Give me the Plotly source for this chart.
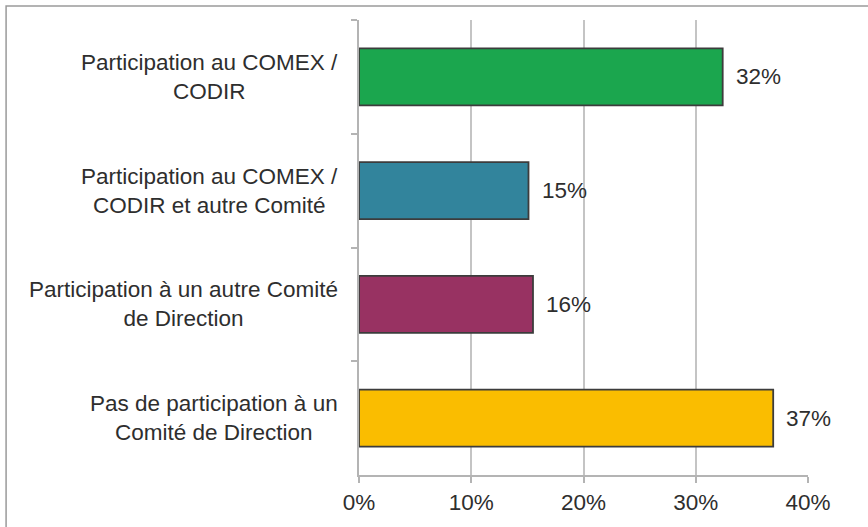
import plotly.graph_objects as go

categories = [
    "Participation au COMEX /<br>CODIR",
    "Participation au COMEX /<br>CODIR et autre Comité",
    "Participation à un autre Comité<br>de Direction",
    "Pas de participation à un<br>Comité de Direction",
]
values = [32.4, 15.1, 15.5, 36.9]
value_labels = ["32%", "15%", "16%", "37%"]
colors = ["#1ba64e", "#32849c", "#983262", "#fabd00"]
x_ticks = [0, 10, 20, 30, 40]
x_tick_labels = ["0%", "10%", "20%", "30%", "40%"]

FONT = "Liberation Sans, Arial, sans-serif"
TXT = "#2e2e2e"

fig = go.Figure()
fig.add_trace(go.Bar(
    y=categories,
    x=values,
    orientation="h",
    width=0.5,
    marker=dict(color=colors, line=dict(color="#3c3c3c", width=1.8)),
    hoverinfo="skip",
))

annotations = []
for cat, v, lab in zip(categories, values, value_labels):
    annotations.append(dict(
        x=v, y=cat, xref="x", yref="y", text=lab, showarrow=False,
        xanchor="left", yanchor="middle", xshift=11,
        font=dict(family=FONT, size=22.5, color=TXT),
    ))
    annotations.append(dict(
        x=0, y=cat, xref="paper", yref="y", text=cat, showarrow=False,
        xanchor="right", yanchor="middle", align="center", xshift=-19,
        font=dict(family=FONT, size=22.5, color=TXT),
    ))

fig.update_layout(
    width=868, height=527,
    margin=dict(l=359, r=60, t=20, b=45),
    paper_bgcolor="white", plot_bgcolor="white",
    showlegend=False,
    bargap=0.5,
    annotations=annotations,
    shapes=[dict(
        type="rect", xref="paper", yref="paper",
        x0=-0.786, x1=1.5, y0=-0.5, y1=1.031,
        line=dict(color="#9a9a9a", width=1.5), fillcolor="rgba(0,0,0,0)",
        layer="below",
    )],
    xaxis=dict(
        range=[0, 40], tickvals=x_ticks, ticktext=x_tick_labels,
        showgrid=True, gridcolor="#c4c4c4", gridwidth=1.5,
        showline=True, linecolor="#b4b4b4", linewidth=1.5,
        ticks="outside", ticklen=6, tickcolor="#b4b4b4", tickwidth=1.5,
        tickfont=dict(family=FONT, size=22.5, color=TXT),
        zeroline=False, fixedrange=True,
    ),
    yaxis=dict(
        categoryorder="array", categoryarray=categories,
        autorange="reversed",
        showticklabels=False,
        tickson="boundaries", ticks="outside", ticklen=6,
        tickcolor="#b4b4b4", tickwidth=1.5,
        showline=True, linecolor="#b4b4b4", linewidth=1.5,
        showgrid=False, zeroline=False, fixedrange=True,
    ),
)

fig.write_html(
    "out.html",
    config={"displayModeBar": False},
    post_script="document.body.style.margin='0';document.body.style.overflow='hidden';",
)
